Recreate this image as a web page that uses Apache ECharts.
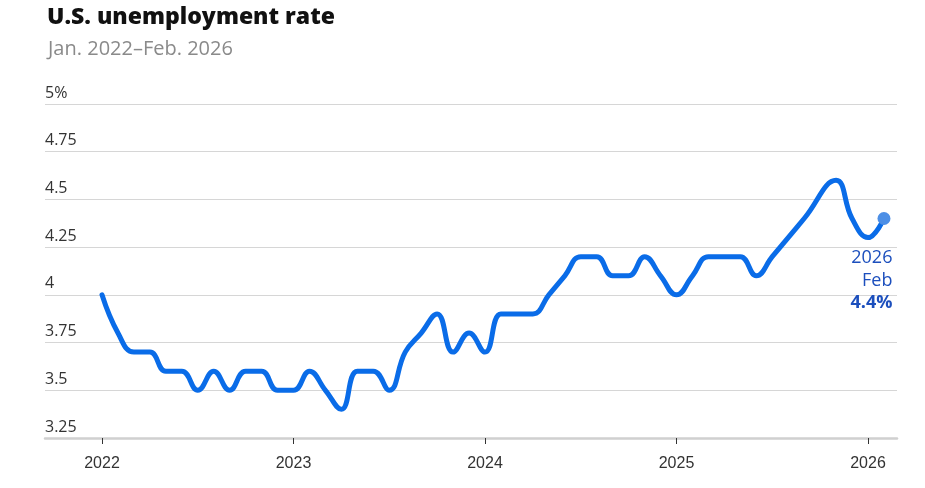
<!DOCTYPE html>
<html>
<head>
<meta charset="utf-8">
<script src="https://cdn.jsdelivr.net/npm/echarts@6/dist/echarts.min.js"></script>
<style>
html,body{margin:0;padding:0;background:#fff;}
#chart{width:925px;height:488px;}
</style>
</head>
<body>
<div id="chart"></div>
<script>
// Months Jan 2022 .. Feb 2026 (Oct 2025 not published)
var months = [
  '2022-01','2022-02','2022-03','2022-04','2022-05','2022-06','2022-07','2022-08','2022-09','2022-10','2022-11','2022-12',
  '2023-01','2023-02','2023-03','2023-04','2023-05','2023-06','2023-07','2023-08','2023-09','2023-10','2023-11','2023-12',
  '2024-01','2024-02','2024-03','2024-04','2024-05','2024-06','2024-07','2024-08','2024-09','2024-10','2024-11','2024-12',
  '2025-01','2025-02','2025-03','2025-04','2025-05','2025-06','2025-07','2025-08','2025-09','2025-10','2025-11','2025-12',
  '2026-01','2026-02'
];
var rates = [
  4.0,3.8,3.7,3.7,3.6,3.6,3.5,3.6,3.5,3.6,3.6,3.5,
  3.5,3.6,3.5,3.4,3.6,3.6,3.5,3.7,3.8,3.9,3.7,3.8,
  3.7,3.9,3.9,3.9,4.0,4.1,4.2,4.2,4.1,4.1,4.2,4.1,
  4.0,4.1,4.2,4.2,4.2,4.1,4.2,4.3,4.4,null,4.6,4.4,
  4.3,4.4
];
var yearTicks = [2022, 2023, 2024, 2025, 2026];
var yTicks = [3.25, 3.5, 3.75, 4, 4.25, 4.5, 4.75, 5];
var titleText = 'U.S. unemployment rate';
var subtitleText = 'Jan. 2022\u2013Feb. 2026';

function monthIndex(s) {
  var p = s.split('-');
  return (parseInt(p[0], 10) - 2022) * 12 + (parseInt(p[1], 10) - 1);
}
var data = [];
months.forEach(function (m, i) {
  if (rates[i] === null) return;
  data.push([monthIndex(m), rates[i]]);
});
var last = data[data.length - 1];
var lastMonth = months[months.length - 1].split('-');
var monthNames = ['Jan','Feb','Mar','Apr','May','Jun','Jul','Aug','Sep','Oct','Nov','Dec'];
var FONT = '"Open Sans", Lato, sans-serif';
data[data.length - 1] = {
  value: last,
  symbol: 'circle',
  symbolSize: 13,
  itemStyle: { color: '#4d8fe6' },
  label: {
    show: true,
    position: [15, 35],
    align: 'right',
    verticalAlign: 'top',
    formatter: '{a|' + lastMonth[0] + '}\n{a|' + monthNames[parseInt(lastMonth[1], 10) - 1] + '}\n{b|' + last[1].toFixed(1) + '%}',
    rich: {
      a: { fontFamily: FONT, fontSize: 18, color: '#1c4fbd', lineHeight: 22.5, align: 'right' },
      b: { fontFamily: FONT, fontSize: 18, fontWeight: 'bold', color: '#1c4fbd', lineHeight: 22.5, align: 'right' }
    }
  }
};

var yearIdx = yearTicks.map(function (y) { return (y - 2022) * 12; });

var chart = echarts.init(document.getElementById('chart'), null, { renderer: 'canvas' });
chart.setOption({
  animation: false,
  backgroundColor: '#fff',
  title: [
    { text: titleText, left: 42, top: 1, textStyle: { fontFamily: FONT, fontWeight: 800, fontSize: 23, color: '#111' } },
    { text: subtitleText, left: 43, top: 34, textStyle: { fontFamily: FONT, fontWeight: 'normal', fontSize: 20, color: '#8a8a8a' } }
  ],
  grid: { left: 45, right: 28, top: 104, bottom: 50 },
  xAxis: {
    type: 'value',
    min: (45 - 102) / (191.5 / 12),
    max: (897 - 102) / (191.5 / 12),
    splitLine: { show: false },
    axisLine: { show: true, lineStyle: { color: '#d0d0d0', width: 2.5 } },
    axisTick: { show: true, customValues: yearIdx, length: 6, lineStyle: { color: '#333', width: 1 } },
    axisLabel: {
      customValues: yearIdx,
      formatter: function (v) { return String(2022 + Math.round(v / 12)); },
      fontFamily: '"Liberation Sans", Arial, sans-serif',
      fontSize: 16, color: '#333', margin: 18
    }
  },
  yAxis: {
    type: 'value',
    min: 3.25, max: 5, interval: 0.25,
    axisLine: { show: false },
    axisTick: { show: false },
    splitLine: { show: true, lineStyle: { color: '#d6d6d6', width: 1 } },
    axisLabel: {
      inside: true,
      margin: 0,
      verticalAlign: 'bottom',
      padding: [0, 0, 3, 0],
      fontFamily: FONT,
      fontSize: 16,
      color: '#333',
      formatter: function (v) {
        if (v === 5) return '5%';
        return String(v);
      }
    }
  },
  series: [{
    type: 'line',
    data: data,
    smooth: 0.45,
    connectNulls: true,
    symbol: 'none',
    lineStyle: { color: '#0a6ce8', width: 5, cap: 'round', join: 'round' },
    itemStyle: { color: '#0a6ce8' },
    z: 3
  }]
});
</script>
</body>
</html>
